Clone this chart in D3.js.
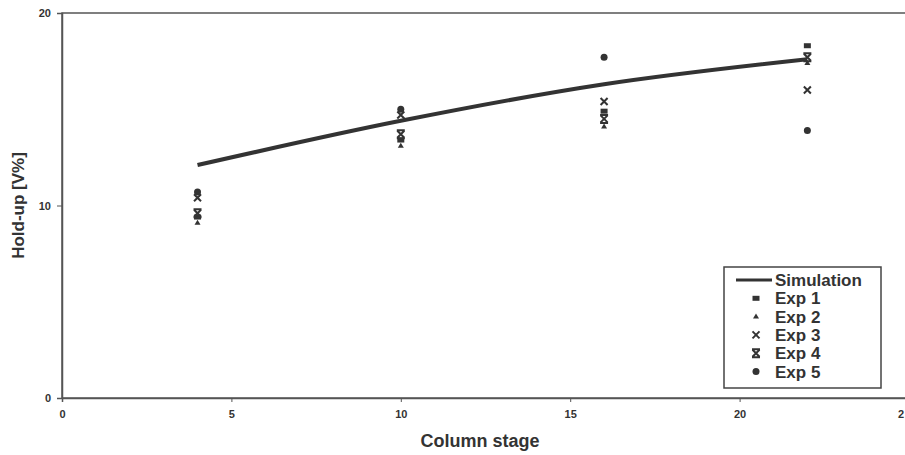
<!DOCTYPE html>
<html>
<head>
<meta charset="utf-8">
<script src="https://cdn.jsdelivr.net/npm/d3@7"></script>
<style>
  body { margin: 0; background: #fff; }
  text { font-family: "Liberation Sans", Arial, sans-serif; font-weight: bold; fill: #333; }
</style>
</head>
<body>
<svg id="chart" width="905" height="455"></svg>
<script>
// column stages and measured hold-up [V%]
var stages = [4, 10, 16, 22];
var simulation = [12.1, 14.4, 16.3, 17.6];
var exp1 = [9.4, 13.4, 14.9, 18.3];
var exp2 = [9.1, 13.1, 14.1, 17.4];
var exp3 = [10.4, 14.7, 15.4, 16.0];
var exp4 = [9.6, 13.7, 14.5, 17.7];
var exp5 = [10.7, 15.0, 17.7, 13.9];
var xTicks = [0, 5, 10, 15, 20];
var yTicks = [0, 10, 20];

var INK = "#333";

var svg = d3.select("#chart");
var x = d3.scaleLinear().domain([0, 25]).range([62, 909]);
var y = d3.scaleLinear().domain([0, 20]).range([398, 13]);

// plot frame
svg.append("rect")
	.attr("x", x(0)).attr("y", y(20))
	.attr("width", x(25) - x(0)).attr("height", y(0) - y(20))
	.attr("fill", "none").attr("stroke", "#555").attr("stroke-width", 1.5);

var yAxis = svg.append("g")
	.attr("transform", "translate(" + x(0) + ",0)")
	.call(d3.axisLeft(y).tickValues(yTicks).tickSize(5).tickPadding(6));
var xAxis = svg.append("g")
	.attr("transform", "translate(0," + y(0) + ")")
	.call(d3.axisBottom(x).tickValues(xTicks).tickSize(4).tickPadding(8));

[yAxis, xAxis].forEach(function(ax) {
	ax.select(".domain").attr("stroke", "#555").attr("stroke-width", 1.5);
	ax.selectAll(".tick line").attr("stroke", "#555");
	ax.selectAll(".tick text").attr("fill", INK).style("font-size", "11px").style("font-weight", "bold");
});

// last x label sits on the page edge, as in the source
svg.append("text")
	.attr("x", 898).attr("y", 418)
	.style("font-size", "11px")
	.text("2");

// simulation line (smoothed)
var line = d3.line()
	.x(function(d, i) { return x(stages[i]); })
	.y(function(d) { return y(d); })
	.curve(d3.curveMonotoneX);

svg.append("path")
	.datum(simulation)
	.attr("d", line)
	.attr("fill", "none")
	.attr("stroke", INK)
	.attr("stroke-width", 4);

// marker painters
function drawMarker(g, type, cx, cy) {
	if (type === "square") {
		g.append("rect").attr("x", cx - 3.5).attr("y", cy - 2.5).attr("width", 7).attr("height", 5).attr("fill", INK);
	} else if (type === "triangle") {
		g.append("path").attr("d", "M" + cx + "," + (cy - 3) + "L" + (cx + 3) + "," + (cy + 2) + "L" + (cx - 3) + "," + (cy + 2) + "Z").attr("fill", INK);
	} else if (type === "cross") {
		g.append("path").attr("d", "M" + (cx - 3.5) + "," + (cy - 3.5) + "L" + (cx + 3.5) + "," + (cy + 3.5) + "M" + (cx + 3.5) + "," + (cy - 3.5) + "L" + (cx - 3.5) + "," + (cy + 3.5))
			.attr("stroke", INK).attr("stroke-width", 2);
	} else if (type === "star") {
		g.append("path").attr("d", "M" + (cx - 3.5) + "," + (cy - 3.5) + "L" + (cx + 3.5) + "," + (cy + 3.5) + "M" + (cx + 3.5) + "," + (cy - 3.5) + "L" + (cx - 3.5) + "," + (cy + 3.5)
			+ "M" + (cx - 4) + "," + (cy - 4) + "H" + (cx + 4) + "M" + (cx - 4) + "," + (cy + 4) + "H" + (cx + 4))
			.attr("stroke", INK).attr("stroke-width", 2);
	} else {
		g.append("circle").attr("cx", cx).attr("cy", cy).attr("r", 3.5).attr("fill", INK);
	}
}

var experiments = [
	{name: "Exp 1", values: exp1, marker: "square"},
	{name: "Exp 2", values: exp2, marker: "triangle"},
	{name: "Exp 3", values: exp3, marker: "cross"},
	{name: "Exp 4", values: exp4, marker: "star"},
	{name: "Exp 5", values: exp5, marker: "circle"}
];

var pointLayer = svg.append("g");
experiments.forEach(function(exp) {
	exp.values.forEach(function(v, i) {
		drawMarker(pointLayer, exp.marker, x(stages[i]), y(v));
	});
});

// axis titles
svg.append("text")
	.attr("transform", "translate(24," + ((y(0) + y(20)) / 2) + ") rotate(-90)")
	.attr("text-anchor", "middle")
	.style("font-size", "17px")
	.text("Hold-up [V%]");

svg.append("text")
	.attr("x", 480).attr("y", 447)
	.attr("text-anchor", "middle")
	.style("font-size", "18px")
	.text("Column stage");

// legend
var legend = svg.append("g");
legend.append("rect")
	.attr("x", 724).attr("y", 267).attr("width", 157).attr("height", 121)
	.attr("fill", "#fff").attr("stroke", "#444").attr("stroke-width", 1.5);

var legendRows = [{name: "Simulation", marker: "line"}].concat(experiments);
legendRows.forEach(function(row, i) {
	var ly = 280 + i * 18.3;
	if (row.marker === "line") {
		legend.append("line")
			.attr("x1", 736).attr("x2", 772).attr("y1", ly).attr("y2", ly)
			.attr("stroke", INK).attr("stroke-width", 3);
	} else {
		drawMarker(legend, row.marker, 756, ly);
	}
	legend.append("text")
		.attr("x", 775).attr("y", ly + 6)
		.style("font-size", "17px")
		.text(row.name);
});
</script>
</body>
</html>
